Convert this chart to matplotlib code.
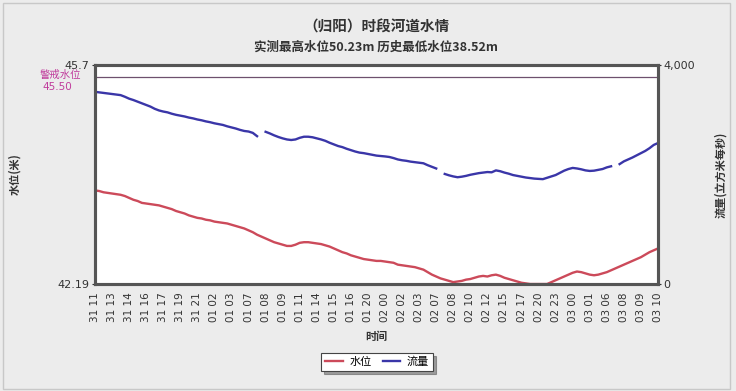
import matplotlib
matplotlib.use('Agg')
import matplotlib.pyplot as plt
import numpy as np

plt.rcParams['font.family'] = ['Noto Sans CJK SC', 'DejaVu Sans']

tick_labels = ['31 11', '31 13', '31 14', '31 16', '31 17', '31 19', '31 21',
               '01 02', '01 03', '01 07', '01 08', '01 09', '01 11', '01 14',
               '01 15', '01 16', '01 20', '02 00', '02 02', '02 03', '02 07',
               '02 08', '02 10', '02 12', '02 15', '02 17', '02 20', '02 23',
               '03 00', '03 01', '03 06', '03 08', '03 09', '03 10']

# four readings per labelled time step
level = [
    43.69, 43.68, 43.66, 43.65, 43.64, 43.63, 43.62, 43.60,
    43.57, 43.54, 43.52, 43.49, 43.48, 43.47, 43.46, 43.45,
    43.43, 43.41, 43.39, 43.36, 43.34, 43.32, 43.29, 43.27,
    43.25, 43.24, 43.22, 43.21, 43.19, 43.18, 43.17, 43.16,
    43.14, 43.12, 43.10, 43.08, 43.05, 43.02, 42.98, 42.95,
    42.92, 42.89, 42.86, 42.84, 42.82, 42.80, 42.80, 42.82,
    42.85, 42.86, 42.86, 42.85, 42.84, 42.83, 42.81, 42.79,
    42.76, 42.73, 42.70, 42.68, 42.65, 42.63, 42.61, 42.59,
    42.58, 42.57, 42.56, 42.56, 42.55, 42.54, 42.53, 42.50,
    42.49, 42.48, 42.47, 42.46, 42.44, 42.42, 42.38, 42.34,
    42.31, 42.28, 42.26, 42.24, 42.22, 42.23, 42.24, 42.26,
    42.27, 42.29, 42.31, 42.32, 42.31, 42.33, 42.34, 42.32,
    42.29, 42.27, 42.25, 42.23, 42.21, 42.20, 42.19, 42.19,
    42.19, 42.19, 42.19, 42.22, 42.25, 42.28, 42.31, 42.34,
    42.37, 42.39, 42.38, 42.36, 42.34, 42.33, 42.34, 42.36,
    42.38, 42.41, 42.44, 42.47, 42.50, 42.53, 42.56, 42.59,
    42.62, 42.66, 42.70, 42.73, 42.76]

nan = np.nan
flow = [
    3510, 3500, 3490, 3480, 3470, 3460, 3450, 3420,
    3385, 3360, 3330, 3300, 3270, 3240, 3200, 3170,
    3150, 3135, 3110, 3090, 3075, 3060, 3040, 3025,
    3005, 2990, 2970, 2955, 2935, 2920, 2905, 2880,
    2860, 2840, 2815, 2795, 2785, 2760, 2700, nan,
    2780, 2750, 2715, 2685, 2660, 2640, 2630, 2640,
    2670, 2690, 2690, 2680, 2660, 2640, 2615, 2580,
    2550, 2520, 2500, 2470, 2445, 2420, 2400, 2390,
    2375, 2360, 2345, 2338, 2330, 2320, 2300, 2275,
    2260, 2250, 2235, 2225, 2215, 2205, 2170, 2140,
    2110, nan, 2010, 1985, 1965, 1950, 1960, 1975,
    1995, 2010, 2025, 2035, 2045, 2040, 2075, 2060,
    2035, 2015, 1990, 1975, 1960, 1945, 1935, 1925,
    1920, 1915, 1940, 1965, 1990, 2030, 2070, 2100,
    2120, 2110, 2095, 2075, 2065, 2070, 2085, 2100,
    2130, 2150, nan, 2190, 2240, 2275, 2310, 2350,
    2390, 2430, 2480, 2540, 2575]

warning_level = 45.50
level_min, level_max = 42.19, 45.7
flow_max = 4000

RED = '#cc4a5a'
BLUE = '#3a36a8'
MAGENTA = '#c03c9c'


def style_axis(ax):
    for s in ax.spines.values():
        s.set_color('#555555')
        s.set_linewidth(2.2)


fig = plt.figure(figsize=(7.36, 3.91), dpi=100)
fig.patch.set_facecolor('#ececec')

ax = fig.add_axes([95 / 736, 1 - 284 / 391, 563 / 736, 219 / 391])
ax2 = ax.twinx()
ax.set_facecolor('white')

x = np.arange(len(level)) / 4.0
l1, = ax.plot(x, level, color=RED, lw=1.7, label='水位')
l2, = ax2.plot(x, flow, color=BLUE, lw=1.7, label='流量')
ax.axhline(warning_level, color='#6e506e', lw=0.9)

ax.set_xlim(0, len(tick_labels) - 1)
ax.set_ylim(level_min, level_max)
ax2.set_ylim(0, flow_max)

ax.set_yticks([level_min, level_max])
ax.set_yticklabels(['42.19', '45.7'], fontsize=8, color='#333333', family='DejaVu Sans')
ax2.set_yticks([0, flow_max])
ax2.set_yticklabels(['0', '4,000'], fontsize=8, color='#333333', family='DejaVu Sans')
ax.tick_params(axis='y', length=2, pad=2, colors='#333333')
ax2.tick_params(axis='y', length=2, pad=2, colors='#333333')

ax.set_xticks(np.arange(len(tick_labels)))
ax.set_xticklabels(tick_labels, rotation=90, fontsize=7.5, color='#333333',
                   family='DejaVu Sans')
ax.tick_params(axis='x', length=0, pad=6)

style_axis(ax)
style_axis(ax2)

ax.set_ylabel('水位(米)', fontsize=8, fontweight='bold', color='#333333', labelpad=26)
ax2.set_ylabel('流量(立方米每秒)', fontsize=8, fontweight='bold', color='#333333', labelpad=14)
ax.set_xlabel('时间', fontsize=8, fontweight='bold', color='#333333', labelpad=6)

fig.text(0.511, 1 - 27 / 391, '（归阳）时段河道水情', ha='center', va='center',
         fontsize=10.5, fontweight='bold', color='#333333')
fig.text(0.511, 1 - 47 / 391, '实测最高水位50.23m 历史最低水位38.52m', ha='center',
         va='center', fontsize=9, fontweight='bold', color='#333333')

# warning level label, sits just under the 45.7 tick label
fig.text(40 / 736, 1 - 75 / 391, '警戒水位', ha='left', va='center',
         fontsize=7.5, color=MAGENTA)
fig.text(42 / 736, 1 - 87 / 391, '45.50', ha='left', va='center',
         fontsize=7.5, color=MAGENTA, family='DejaVu Sans')

leg = fig.legend([l1, l2], ['水位', '流量'], loc='center', ncol=2,
                 bbox_to_anchor=(377 / 736, 1 - 362 / 391), fontsize=8,
                 frameon=True, fancybox=False, shadow=True, handlelength=1.6,
                 handletextpad=0.6, columnspacing=1.0, borderpad=0.35)
leg.get_frame().set_edgecolor('#444444')
leg.get_frame().set_linewidth(0.8)

# thin outer frame of the chart image
fig.add_artist(plt.Rectangle((0.004, 0.004), 0.988, 0.988, transform=fig.transFigure,
                             fill=False, edgecolor='#c8c8c8', lw=1))

fig.savefig('out.png', dpi=100, facecolor=fig.get_facecolor())
